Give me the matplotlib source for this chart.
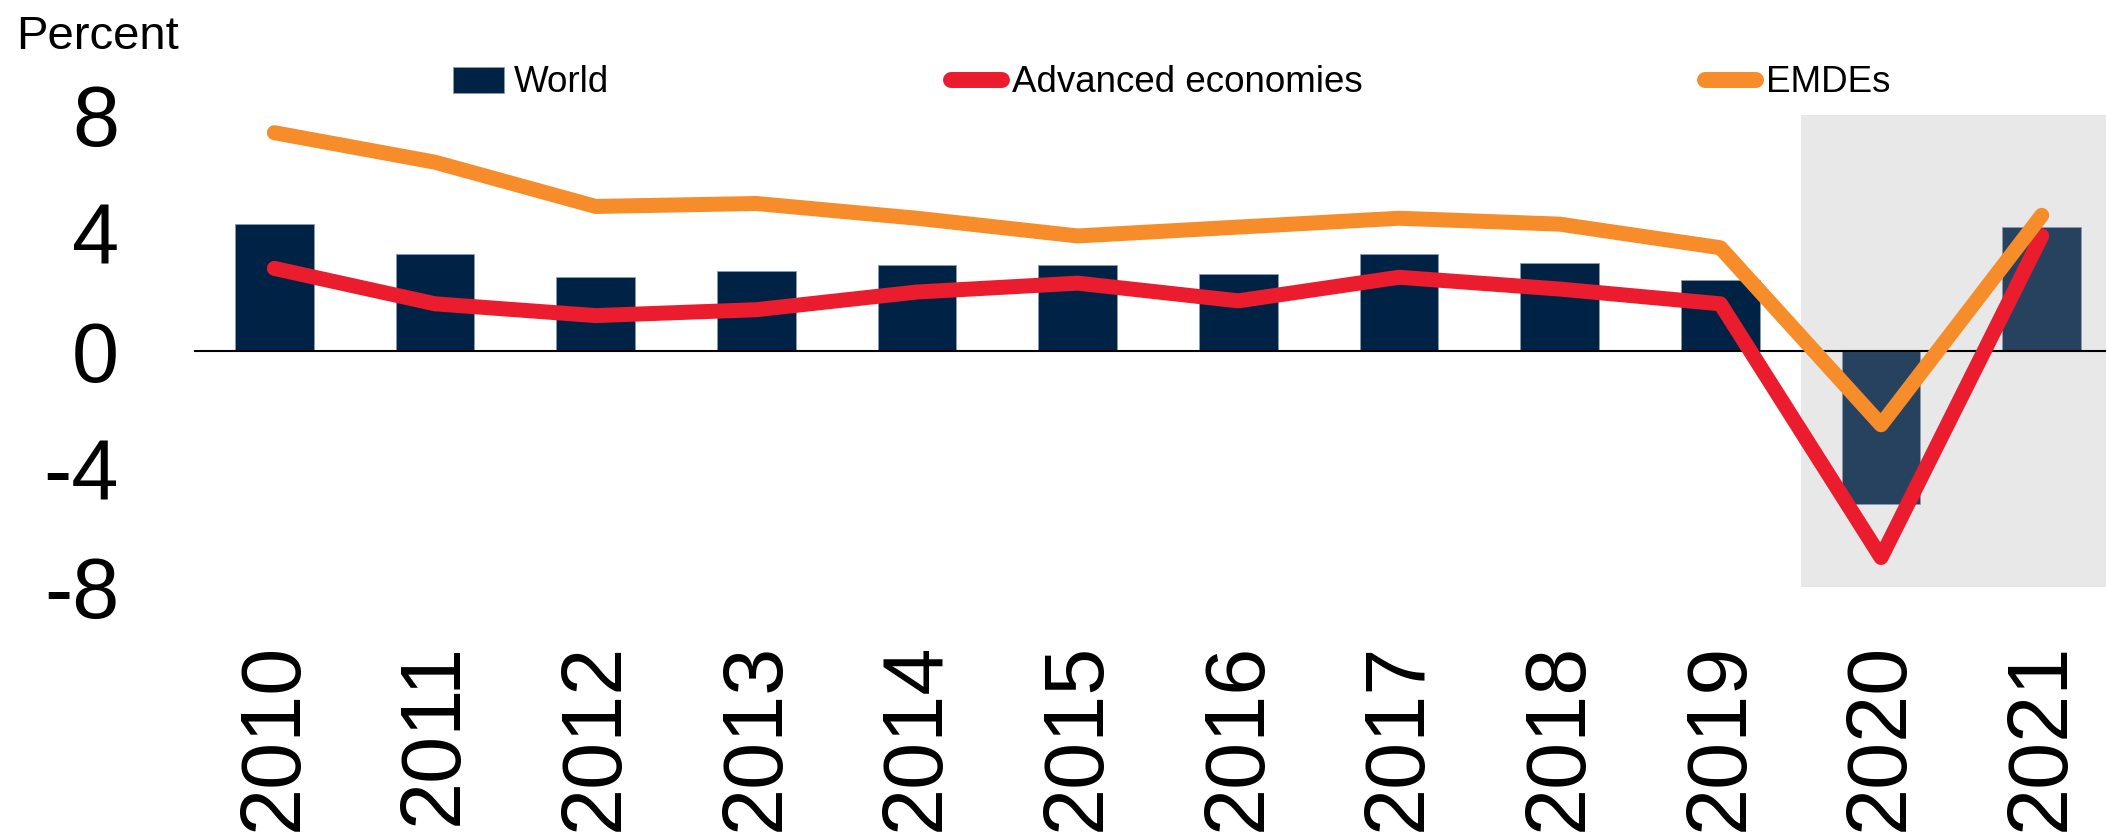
import matplotlib
matplotlib.use("Agg")
import matplotlib.pyplot as plt
from matplotlib.patches import Rectangle
from matplotlib.legend_handler import HandlerPatch

years = ["2010", "2011", "2012", "2013", "2014", "2015", "2016", "2017", "2018", "2019", "2020", "2021"]
world = [4.3, 3.3, 2.5, 2.7, 2.9, 2.9, 2.6, 3.3, 3.0, 2.4, -5.2, 4.2]
advanced = [2.8, 1.6, 1.2, 1.4, 2.0, 2.3, 1.7, 2.5, 2.1, 1.6, -7.0, 3.9]
emdes = [7.4, 6.4, 4.9, 5.0, 4.5, 3.9, 4.2, 4.5, 4.3, 3.5, -2.5, 4.6]
yticks = [-8, -4, 0, 4, 8]

plt.rcParams['font.family'] = ['Liberation Sans', 'DejaVu Sans']

W, H = 2106, 832
fig = plt.figure(figsize=(W / 100, H / 100), dpi=100)
ax = fig.add_axes([194 / W, 1 - 587 / H, 1 - 194 / W, (587 - 115) / H])

x = list(range(len(years)))
navy = "#002345"
navy_light = "#27425E"
bar_colors = [navy] * 10 + [navy_light] * 2

ax.axvspan(9.5, 11.5, color="#E8E8E8", zorder=0, lw=0)
bars = ax.bar(x, world, width=0.49, color=bar_colors, edgecolor="#8A9BB0",
              linewidth=0.6, zorder=2, label="World")
ax.axhline(0, color="black", lw=1.5, zorder=3)
ax.plot(x, advanced, color="#EB1C2D", lw=10.8, solid_capstyle="round",
        solid_joinstyle="round", zorder=4, label="Advanced economies")
ax.plot(x, emdes, color="#F78D2A", lw=10.8, solid_capstyle="round",
        solid_joinstyle="round", zorder=5, label="EMDEs")

ax.set_xlim(-0.5, 11.4)
ax.set_ylim(-8, 8)
ax.set_yticks(yticks)
ax.set_yticklabels([str(v) for v in yticks])
ax.set_xticks(x)
ax.set_xticklabels(years, rotation=90)
ax.tick_params(axis="y", length=0, pad=54, labelsize=61)
ax.tick_params(axis="x", length=0, pad=40, labelsize=61)
for s in ax.spines.values():
    s.set_visible(False)
ax.patch.set_visible(False)

fig.text(16 / W, 1 - 49 / H, "Percent", fontsize=34, va="baseline", ha="left")

def bar_handle(legend, orig_handle, xdescent, ydescent, width, height, fontsize):
    h = 13.7
    return Rectangle((-xdescent, -ydescent + (height - h) / 2), width, h)

handles, labels = ax.get_legend_handles_labels()
order = [labels.index("World"), labels.index("Advanced economies"), labels.index("EMDEs")]
leg = fig.legend([handles[i] for i in order], [labels[i] for i in order],
                 ncol=3, loc="center left", bbox_to_anchor=(453 / W, 1 - 83 / H),
                 frameon=False, fontsize=26.5, handlelength=1.385, handletextpad=0.27,
                 columnspacing=9.3, borderpad=0, borderaxespad=0,
                 handler_map={type(bars.patches[0]): HandlerPatch(patch_func=bar_handle)})
for lh in leg.get_lines():
    lh.set_linewidth(11.5)
    lh.set_solid_capstyle("round")

fig.savefig("out.png", dpi=100)
